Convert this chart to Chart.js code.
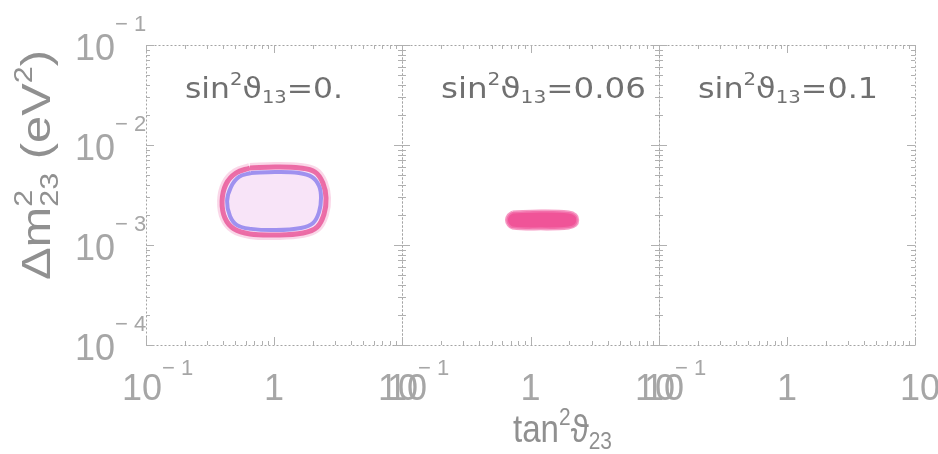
<!DOCTYPE html>
<html>
<head>
<meta charset="utf-8">
<script src="https://cdn.jsdelivr.net/npm/chart.js@4.4.1/dist/chart.umd.min.js"></script>
<style>
  body { margin: 0; background: #fff; }
  #wrap { position: relative; width: 938px; height: 454px; }
  #wrap canvas { position: absolute; left: 0; top: 0; }
</style>
</head>
<body>
<div id="wrap">
  <canvas id="p0" width="938" height="454"></canvas>
  <canvas id="p1" width="938" height="454"></canvas>
  <canvas id="p2" width="938" height="454"></canvas>
</div>
<script>
// sin^2(theta13) value of each panel
const sin13Labels = ['0.', '0.06', '0.1'];

// tick values and their labels
const xTickValues = [0.1, 1, 10];
const xTickMain = ['10', '1', '10'];
const xTickExp = ['\u2212 1', '', ''];
const yTickValues = [1e-1, 1e-2, 1e-3, 1e-4];
const yTickExp = ['\u2212 1', '\u2212 2', '\u2212 3', '\u2212 4'];

// panel 1 (sin2 = 0): outer (pink) contour
const outerTan = [0.649, 1.018, 1.597, 2.09, 2.41, 2.55, 2.46, 2.17, 1.69, 1.018, 0.649, 0.487, 0.414, 0.393, 0.422, 0.505, 0.649];
const outerDm = [5.89e-3, 6.03e-3, 5.89e-3, 5.37e-3, 4.17e-3, 2.95e-3, 2.04e-3, 1.51e-3, 1.32e-3, 1.26e-3, 1.29e-3, 1.45e-3, 1.86e-3, 2.75e-3, 4.07e-3, 5.25e-3, 5.89e-3];
// panel 1: inner (blue) contour
const innerTan = [0.661, 1.018, 1.567, 1.98, 2.25, 2.33, 2.25, 2.02, 1.625, 1.018, 0.661, 0.514, 0.453, 0.43, 0.461, 0.533, 0.661];
const innerDm = [5.25e-3, 5.37e-3, 5.25e-3, 4.79e-3, 3.89e-3, 2.95e-3, 2.14e-3, 1.66e-3, 1.48e-3, 1.41e-3, 1.45e-3, 1.58e-3, 1.95e-3, 2.75e-3, 3.80e-3, 4.79e-3, 5.25e-3];
// panel 2 (sin2 = 0.06): allowed strip
const stripTan = [0.723, 1.20, 1.98, 2.25, 2.33, 2.25, 1.98, 1.20, 0.723, 0.673, 0.65, 0.673, 0.723];
const stripDm = [2.14e-3, 2.19e-3, 2.14e-3, 2.0e-3, 1.78e-3, 1.58e-3, 1.48e-3, 1.45e-3, 1.48e-3, 1.58e-3, 1.78e-3, 2.0e-3, 2.14e-3];

const toPoints = (xs, ys) => xs.map((x, i) => ({ x: x, y: ys[i] }));

// panel frames in page pixels
const frames = [[146, 402], [402, 659], [659, 915]];
const frameTop = 45, frameBottom = 345;

// draw text made of normal / sup / sub pieces
function richText(ctx, segs, x, y, o) {
  const size = o.size;
  const small = Math.round(size * (o.small || 0.62));
  const fam = o.family || 'Liberation Sans';
  const fontOf = k => (k ? small : size) + 'px "' + fam + '", "DejaVu Sans", sans-serif';
  let w = 0, lastSup = 0;
  const pos = [];
  segs.forEach(([t, k]) => {
    ctx.font = fontOf(k);
    const start = k === 'stack' ? lastSup : w;
    if (k === 'sup') lastSup = w;
    pos.push(start);
    w = Math.max(w, start + ctx.measureText(t).width);
  });
  ctx.save();
  ctx.translate(x, y);
  if (o.rotate) ctx.rotate(o.rotate);
  ctx.scale(o.width ? o.width / w : (o.sx || 1), 1);
  const off = o.align === 'center' ? -w / 2 : o.align === 'right' ? -w : 0;
  ctx.fillStyle = o.color;
  ctx.textBaseline = 'alphabetic';
  ctx.textAlign = 'left';
  segs.forEach(([t, k], i) => {
    ctx.font = fontOf(k);
    const dy = k === 'sup' ? o.supShift : (k === 'sub' || k === 'stack') ? o.subShift : 0;
    ctx.fillText(t, off + pos[i], dy);
  });
  ctx.restore();
}

function framePlugin(idx) {
  return {
    id: 'frame' + idx,
    afterDraw(chart) {
      const ctx = chart.ctx;
      const a = chart.chartArea;
      const xs = chart.scales.x, ys = chart.scales.y;
      ctx.save();
      // dotted frame
      ctx.strokeStyle = '#a4a4a4';
      ctx.lineWidth = 1;
      ctx.setLineDash([2, 2]);
      ctx.strokeRect(a.left + 0.5, a.top + 0.5, a.right - a.left, a.bottom - a.top);
      ctx.setLineDash([]);
      // inward log ticks
      ctx.strokeStyle = '#b0b0b0';
      ctx.beginPath();
      for (let d = -4; d < -1 + 1e-9; d++) {
        for (let k = 1; k <= 9; k++) {
          const v = k * Math.pow(10, d);
          if (v > 0.1 + 1e-12) break;
          const py = Math.round(ys.getPixelForValue(v)) + 0.5;
          const len = k === 1 ? 8 : 4;
          ctx.moveTo(a.left, py); ctx.lineTo(a.left + len, py);
          ctx.moveTo(a.right, py); ctx.lineTo(a.right - len, py);
        }
      }
      for (let d = -1; d <= 1; d++) {
        for (let k = 1; k <= 9; k++) {
          const v = k * Math.pow(10, d);
          if (v > 10 + 1e-9) break;
          const px = Math.round(xs.getPixelForValue(v)) + 0.5;
          const len = k === 1 ? 8 : 4;
          ctx.moveTo(px, a.bottom); ctx.lineTo(px, a.bottom - len);
          ctx.moveTo(px, a.top); ctx.lineTo(px, a.top + len);
        }
      }
      ctx.stroke();
      ctx.restore();

      // x tick labels
      xTickValues.forEach((v, i) => {
        const px = xs.getPixelForValue(v);
        const segs = xTickExp[i] ? [[xTickMain[i], ''], [xTickExp[i], 'sup']] : [[xTickMain[i], '']];
        let left;
        if (xTickExp[i]) left = px - 24;
        else {
          ctx.font = '36px "Liberation Sans"';
          const w = ctx.measureText(xTickMain[i]).width;
          left = px - w / 2 + (v === 10 ? 5 : 0);
        }
        richText(ctx, segs, left, 400, { size: 36, color: '#a6a6a6', supShift: -25, subShift: 0 });
      });

      // panel title
      const tw = [158, 205, 180][idx];
      richText(ctx, [['sin', ''], ['2', 'sup'], ['\u03d1', ''], ['13', 'sub'], ['=' + sin13Labels[idx], '']],
        a.left + 39, 98, { size: 29, family: 'DejaVu Sans', color: '#707070', width: tw, supShift: -13, subShift: 5 });

      if (idx === 0) {
        // y tick labels
        yTickValues.forEach((v, i) => {
          const py = ys.getPixelForValue(v);
          richText(ctx, [['10', ''], [yTickExp[i], 'sup']], a.left - 71, py + 15,
            { size: 36, color: '#a6a6a6', supShift: -29, subShift: 0 });
        });
        // axis titles
        richText(ctx, [['tan', ''], ['2', 'sup'], ['\u03d1', ''], ['23', 'sub']], 513, 442,
          { size: 38, color: '#909090', width: 99, supShift: -17, subShift: 7 });
        richText(ctx, [['\u0394m', ''], ['2', 'sup'], ['23', 'stack'], [' (eV', ''], ['2', 'sup'], [')', '']], 50, 280,
          { size: 40, color: '#909090', width: 230, rotate: -Math.PI / 2, supShift: -18, subShift: 8 });
      }
    }
  };
}

function makeChart(idx, datasets) {
  const f = frames[idx];
  return new Chart(document.getElementById('p' + idx), {
    type: 'scatter',
    data: { datasets: datasets },
    options: {
      responsive: false,
      animation: false,
      layout: { padding: { left: f[0], right: 938 - f[1], top: frameTop, bottom: 454 - frameBottom } },
      plugins: { legend: { display: false }, tooltip: { enabled: false } },
      elements: { point: { radius: 0 } },
      scales: {
        x: { type: 'logarithmic', min: 0.1, max: 10, display: false },
        y: { type: 'logarithmic', min: 1e-4, max: 1e-1, display: false }
      }
    },
    plugins: [framePlugin(idx)]
  });
}

makeChart(0, [
  {
    label: 'inner',
    data: toPoints(innerTan, innerDm),
    showLine: true, fill: false, tension: 0.4,
    borderColor: 'rgba(136,124,236,0.8)', borderWidth: 4
  },
  {
    label: 'outer',
    data: toPoints(outerTan, outerDm),
    showLine: true, fill: 'shape', tension: 0.4,
    backgroundColor: 'rgb(248,228,248)',
    borderColor: 'rgba(234,96,158,0.9)', borderWidth: 5
  },
  {
    label: 'outer halo',
    data: toPoints(outerTan, outerDm),
    showLine: true, fill: false, tension: 0.4,
    borderColor: 'rgba(240,140,190,0.35)', borderWidth: 10
  }
]);

makeChart(1, [
  {
    label: 'strip',
    data: toPoints(stripTan, stripDm),
    showLine: true, fill: 'shape', tension: 0.4,
    backgroundColor: 'rgb(240,84,152)',
    borderColor: 'rgba(243,120,176,0.75)', borderWidth: 3
  }
]);

makeChart(2, []);
</script>
</body>
</html>
